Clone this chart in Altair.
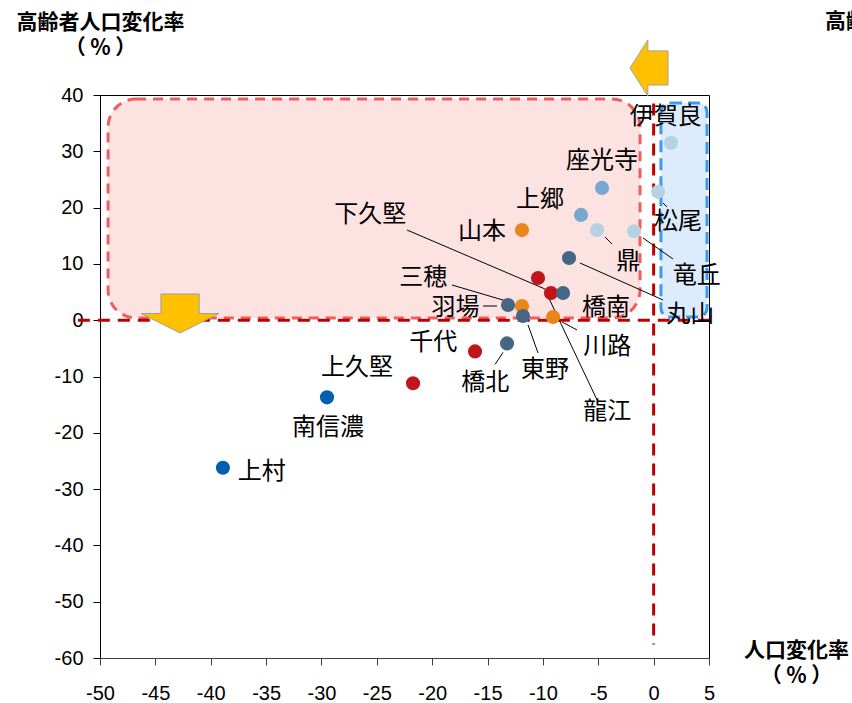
import altair as alt
import pandas as pd

# ---- data ----
names = ["伊賀良", "松尾", "竜丘", "鼎", "座光寺", "上郷", "丸山", "山本", "下久堅", "龍江",
         "橋南", "羽場", "三穂", "東野", "川路", "橋北", "千代", "上久堅", "南信濃", "上村"]
pop_change = [1.57, 0.40, -1.77, -5.11, -4.66, -6.56, -7.64, -11.89, -9.27, -10.44,
              -8.18, -13.15, -11.89, -11.80, -9.08, -13.24, -16.13, -21.73, -29.50, -38.90]
elder_change = [31.5, 22.8, 15.8, 16.0, 23.5, 18.7, 11.05, 16.0, 4.83, 7.5,
                4.83, 2.7, 2.52, 0.75, 0.57, -4.12, -5.54, -11.2, -13.7, -26.2]
group = ["淡", "淡", "淡", "淡", "中", "中", "濃", "橙", "赤", "赤",
         "濃", "濃", "橙", "濃", "橙", "濃", "赤", "赤", "青", "青"]
label_x = [1.1, 2.2, 3.9, -2.3, -4.66, -10.26, 3.3, -15.5, -25.6, -4.2,
           -4.3, -17.9, -20.8, -9.8, -4.2, -15.2, -19.9, -26.8, -29.4, -35.4]
label_y = [36.1, 17.4, 7.8, 10.3, 28.3, 21.3, 0.9, 15.7, 18.7, -16.3,
           2.2, 2.2, 7.5, -8.9, -4.8, -11.2, -4.1, -8.5, -19.1, -26.9]

group_domain = ["淡", "中", "濃", "橙", "赤", "青"]
group_colors = ["#b5d1e2", "#78a8cf", "#436785", "#e8861c", "#c0161b", "#0060ae"]

# leader lines (label -> point)
leader_x1 = [-22.27, -5.11, -18.21, -15.41, -10.44, -6.92, -14.32, -6.65, -0.96, 0.85, -4.39]
leader_y1 = [16.02, -14.17, 6.25, 2.52, -5.83, -1.74, -7.85, 10.16, 14.60, 20.82, 14.78]
leader_x2 = [-9.81, -9.81, -12.70, -14.14, -11.34, -8.27, -13.60, 0.85, 1.75, 1.21, -3.76]
leader_y2 = [5.54, 5.36, 3.06, 2.52, -0.85, -0.32, -5.72, 3.59, 10.87, 20.11, 13.53]

# highlighted regions
region_x = [-49.27, 0.66]
region_x2 = [-1.23, 4.82]
region_y = [39.29, 38.58]
region_y2 = [0.39, 0.56]

# reference dashed lines (x=0, y=0)
ref_x = [-52.0, 0.0]
ref_x2 = [5.0, 0.0]
ref_y = [0.0, 38.5]
ref_y2 = [0.0, -57.6]

# arrow annotations
arrow_down_x, arrow_down_y = [-42.77], [1.19]
arrow_left_x, arrow_left_y = [-0.42], [44.8]

x_ticks = list(range(-50, 6, 5))
y_ticks = list(range(-60, 41, 10))

pts = pd.DataFrame({"name": names, "x": pop_change, "y": elder_change, "g": group,
                    "lx": label_x, "ly": label_y})
leaders = pd.DataFrame({"x": leader_x1, "y": leader_y1, "x2": leader_x2, "y2": leader_y2})
pink = pd.DataFrame({"x": region_x[:1], "x2": region_x2[:1], "y": region_y[:1], "y2": region_y2[:1]})
blue = pd.DataFrame({"x": region_x[1:], "x2": region_x2[1:], "y": region_y[1:], "y2": region_y2[1:]})
refs = pd.DataFrame({"x": ref_x, "x2": ref_x2, "y": ref_y, "y2": ref_y2})
adown = pd.DataFrame({"x": arrow_down_x, "y": arrow_down_y})
aleft = pd.DataFrame({"x": arrow_left_x, "y": arrow_left_y})

TITLE_FONT = "Noto Sans CJK JP"
PCT = "（\u2009％\u2009）"

xscale = alt.Scale(domain=[-50, 5], nice=False, zero=False)
yscale = alt.Scale(domain=[-60, 40], nice=False, zero=False)

xaxis = alt.Axis(values=x_ticks, grid=False, tickSize=7, labelPadding=18,
                 labelExpr="toString(datum.value)",
                 labelFont="Liberation Sans", labelFontSize=20, labelColor="#000000",
                 domainColor="#404040", tickColor="#404040", labelFlush=False,
                 title=["人口変化率", PCT], titleAngle=0, titleAlign="center",
                 titleBaseline="alphabetic", titleX=696, titleY=-2,
                 titleFont=TITLE_FONT, titleFontWeight="bold", titleFontSize=21,
                 titleLineHeight=25, titleColor="#000000")
yaxis = alt.Axis(values=y_ticks, grid=False, tickSize=7, labelPadding=10,
                 labelExpr="toString(datum.value)",
                 labelFont="Liberation Sans", labelFontSize=20, labelColor="#000000",
                 domainColor="#000000", tickColor="#000000", labelFlush=False,
                 title=["高齢者人口変化率", PCT], titleAngle=0, titleAlign="center",
                 titleBaseline="alphabetic", titleX=0, titleY=-67,
                 titleFont=TITLE_FONT, titleFontWeight="bold", titleFontSize=21,
                 titleLineHeight=25, titleColor="#000000")

base_x = alt.X("x:Q", scale=xscale, axis=xaxis)
base_y = alt.Y("y:Q", scale=yscale, axis=yaxis)

pink_layer = alt.Chart(pink).mark_rect(
    cornerRadius=28, fill="#fde2e2", stroke="#ef5d5d", strokeWidth=3, strokeDash=[10, 7]
).encode(x=base_x, x2="x2:Q", y=base_y, y2="y2:Q")

blue_layer = alt.Chart(blue).mark_rect(
    cornerRadius=9, fill="#ddecfc", stroke="#3a9cee", strokeWidth=3, strokeDash=[12, 6]
).encode(x="x:Q", x2="x2:Q", y="y:Q", y2="y2:Q")

ref_layer = alt.Chart(refs).mark_rule(
    color="#c00000", strokeWidth=3, strokeDash=[12, 8]
).encode(x="x:Q", x2="x2:Q", y="y:Q", y2="y2:Q")

leader_layer = alt.Chart(leaders).mark_rule(color="#000000", strokeWidth=1).encode(
    x="x:Q", x2="x2:Q", y="y:Q", y2="y2:Q")

point_layer = alt.Chart(pts).mark_circle(size=200, opacity=1).encode(
    x="x:Q", y="y:Q",
    color=alt.Color("g:N", scale=alt.Scale(domain=group_domain, range=group_colors), legend=None))

label_layer = alt.Chart(pts).mark_text(
    font=TITLE_FONT, fontSize=24, color="#000000", align="center", baseline="middle"
).encode(x="lx:Q", y="ly:Q", text="name:N")

down_path = "M -0.49 -0.5 L 0.49 -0.5 L 0.49 0 L 1 0 L 0 0.5 L -1 0 L -0.49 0 Z"
left_path = "M -0.68 0 L -0.04 -1 L -0.04 -0.61 L 0.68 -0.61 L 0.68 0.61 L -0.04 0.61 L -0.04 1 Z"

adown_layer = alt.Chart(adown).mark_point(
    shape=down_path, size=6084, filled=True, fill="#ffc000", stroke="#a0a0a0",
    strokeWidth=1, opacity=1, fillOpacity=1
).encode(x="x:Q", y="y:Q")

aleft_layer = alt.Chart(aleft).mark_point(
    shape=left_path, size=3136, filled=True, fill="#ffc000", stroke="#a0a0a0",
    strokeWidth=1, opacity=1, fillOpacity=1
).encode(x="x:Q", y="y:Q")

# title of the neighbouring chart, cut at the right edge
side_title = alt.Chart(pd.DataFrame({"t": ["高齢者人口変化率"]})).mark_text(
    font=TITLE_FONT, fontSize=21, fontWeight="bold", color="#000000",
    align="left", baseline="alphabetic"
).encode(x=alt.value(725), y=alt.value(-67), text="t:N")

chart = alt.layer(
    pink_layer, blue_layer, ref_layer, leader_layer, point_layer, label_layer,
    adown_layer, aleft_layer, side_title
).properties(
    width=609, height=563,
    autosize=alt.AutoSizeParams(type="none"),
    padding={"left": 100, "top": 95, "right": 143, "bottom": 45},
    background="#ffffff"
).configure_view(stroke="#000000", strokeWidth=1)

chart.save("out.html", embed_options={"renderer": "svg", "actions": False})
